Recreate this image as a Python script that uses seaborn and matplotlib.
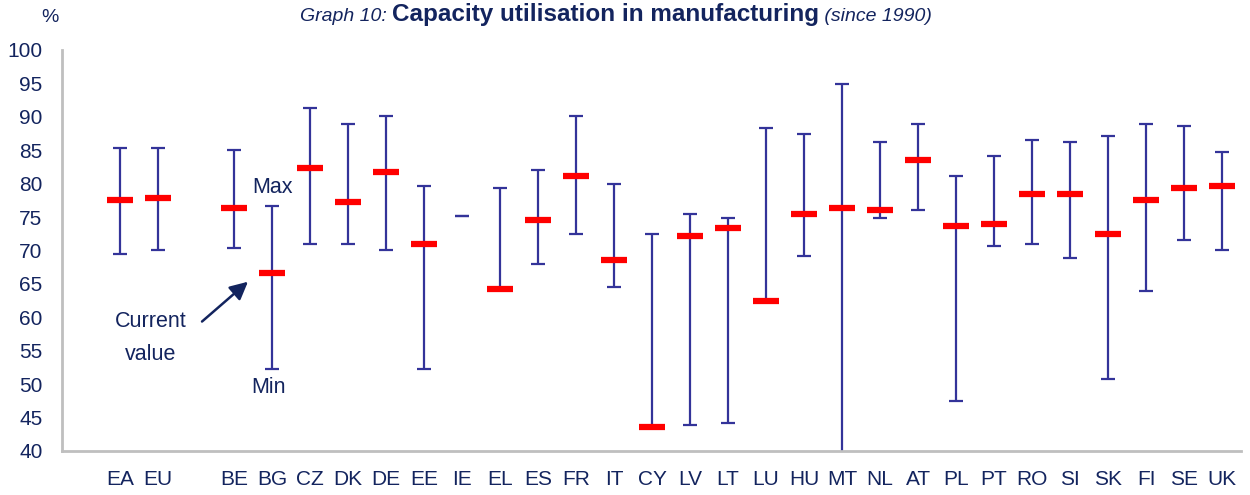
import numpy as np
import pandas as pd
import matplotlib
matplotlib.use("Agg")
import matplotlib.pyplot as plt
from matplotlib import font_manager
import seaborn as sns

categories = ["EA", "EU", "", "BE", "BG", "CZ", "DK", "DE", "EE", "IE", "EL", "ES", "FR",
              "IT", "CY", "LV", "LT", "LU", "HU", "MT", "NL", "AT", "PL", "PT", "RO",
              "SI", "SK", "FI", "SE", "UK"]
max_vals = [85.4, 85.4, np.nan, 85.0, 76.7, 91.3, 88.9, 90.1, 79.7, 75.2, 79.4, 82.1, 90.1,
            80.0, 72.5, 75.5, 74.9, 88.4, 87.4, 94.9, 86.2, 88.9, 81.2, 84.2, 86.5,
            86.2, 87.1, 88.9, 88.6, 84.7]
min_vals = [69.5, 70.1, np.nan, 70.4, 52.2, 71.0, 71.0, 70.1, 52.2, 75.2, 64.3, 68.0, 72.5,
            64.5, 43.6, 43.9, 44.2, 62.5, 69.2, 36.0, 74.9, 76.1, 47.5, 70.7, 71.0,
            68.9, 50.7, 63.9, 71.6, 70.1]
current_vals = [77.6, 77.9, np.nan, 76.4, 66.6, 82.4, 77.3, 81.8, 71.0, np.nan, 64.3, 74.6, 81.2,
                68.6, 43.6, 72.2, 73.4, 62.5, 75.5, 76.4, 76.1, 83.6, 73.7, 74.0, 78.5,
                78.5, 72.5, 77.6, 79.4, 79.7]
y_ticks = list(range(40, 101, 5))

sns.set_theme(style="white")
plt.rcParams["font.family"] = ["Liberation Sans", "DejaVu Sans"]

navy = "#13245E"
bar_blue = "#333399"

df = pd.DataFrame({"cat": categories, "max": max_vals, "min": min_vals, "cur": current_vals})
df["pos"] = np.arange(len(df))

fig = plt.figure(figsize=(12.5, 4.95), dpi=100)
ax = fig.add_axes([0.0496, 0.0889, 0.9432, 0.8101])

valid = df.dropna(subset=["max"])
mid = (valid["max"] + valid["min"]) / 2
half = (valid["max"] - valid["min"]) / 2
ax.errorbar(valid["pos"], mid, yerr=half, fmt="none", ecolor=bar_blue,
            elinewidth=1.6, capsize=5, capthick=1.6, zorder=2)

sns.scatterplot(data=df.dropna(subset=["cur"]), x="pos", y="cur", marker="_",
                s=360, linewidth=4.5, color="#FF0000", ax=ax, zorder=3, legend=False)

ax.set_xlim(-1.53, 29.5)
ax.set_ylim(40, 100)
ax.set_yticks(y_ticks)
fs = 15
ax.set_yticklabels([str(t) for t in y_ticks], fontsize=fs, color=navy)
ax.set_xticks(df["pos"])
ax.set_xticklabels(categories, fontsize=fs, color=navy)
ax.tick_params(axis="both", length=0)
ax.tick_params(axis="y", pad=14)
ax.tick_params(axis="x", pad=14)
ax.set_xlabel("")
ax.set_ylabel("")
for s in ["top", "right"]:
    ax.spines[s].set_visible(False)
for s in ["left", "bottom"]:
    ax.spines[s].set_color("#BFBFBF")
    ax.spines[s].set_linewidth(2)

# annotations
afs = 15.5
ax.text(4.0, 79.5, "Max", ha="center", va="center", fontsize=afs, color=navy)
ax.text(3.9, 49.5, "Min", ha="center", va="center", fontsize=afs, color=navy)
ax.text(0.8, 56.9, "Current\nvalue", ha="center", va="center", fontsize=afs,
        color=navy, linespacing=1.75)
ax.annotate("", xy=(3.42, 65.6), xytext=(2.1, 59.1),
            arrowprops=dict(arrowstyle="-|>,head_length=0.9,head_width=0.45",
                            color=navy, lw=1.8))

# title in pieces, centred as a whole
ybase = 0.957
t1 = fig.text(0, ybase, "Graph 10: ", fontsize=14, style="italic",
              color=navy, va="baseline", ha="left")
t2 = fig.text(0, ybase, "Capacity utilisation in manufacturing", fontsize=17.5,
              weight="bold", color=navy, va="baseline", ha="left")
t3 = fig.text(0, ybase, " (since 1990)", fontsize=14, style="italic",
              color=navy, va="baseline", ha="left")
fig.canvas.draw()
r = fig.canvas.get_renderer()
W = fig.bbox.width
w1 = t1.get_window_extent(r).width
w2 = t2.get_window_extent(r).width
w3 = t3.get_window_extent(r).width
x0 = 616 - (w1 + w2 + w3) / 2
t1.set_x(x0 / W)
t2.set_x((x0 + w1) / W)
t3.set_x((x0 + w1 + w2) / W)

fig.text(0.04, 0.955, "%", fontsize=14, color=navy, va="baseline", ha="center")

fig.savefig("out.png", dpi=100)
